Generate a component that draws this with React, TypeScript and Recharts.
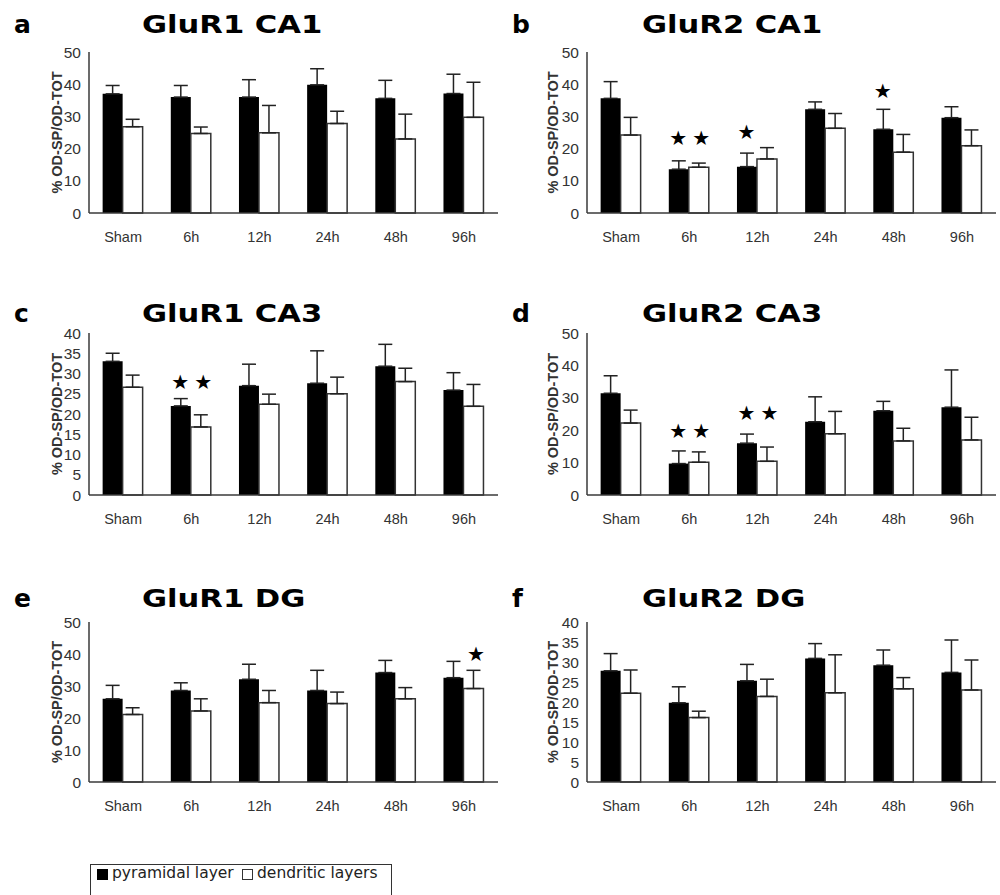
import React from 'react';
import { BarChart, Bar, XAxis, YAxis, ErrorBar, ReferenceDot } from 'recharts';

// ---------- data ----------
const categories = ['Sham', '6h', '12h', '24h', '48h', '96h'];

const ticks50 = [0, 10, 20, 30, 40, 50];
const ticks40 = [0, 5, 10, 15, 20, 25, 30, 35, 40];

// a: GluR1 CA1
const glur1Ca1Pyr = [37, 36, 36, 39.8, 35.6, 37.1];
const glur1Ca1PyrErr = [2.6, 3.6, 5.4, 5, 5.6, 6];
const glur1Ca1Den = [26.8, 24.7, 24.9, 27.8, 23, 29.7];
const glur1Ca1DenErr = [2.3, 2, 8.5, 3.8, 7.7, 10.9];
const glur1Ca1Stars: { cat: string; bar: string; y: number }[] = [];

// b: GluR2 CA1
const glur2Ca1Pyr = [35.6, 13.6, 14.4, 32.2, 26, 29.6];
const glur2Ca1PyrErr = [5.2, 2.6, 4.2, 2.3, 6.2, 3.4];
const glur2Ca1Den = [24.2, 14.2, 16.8, 26.3, 18.9, 20.9];
const glur2Ca1DenErr = [5.5, 1.3, 3.5, 4.6, 5.5, 4.9];
const glur2Ca1Stars = [
  { cat: '6h', bar: 'pyr', y: 23.4 },
  { cat: '6h', bar: 'den', y: 23.4 },
  { cat: '12h', bar: 'pyr', y: 25.3 },
  { cat: '48h', bar: 'pyr', y: 37.8 },
];

// c: GluR1 CA3
const glur1Ca3Pyr = [33, 22, 27, 27.6, 31.8, 25.9];
const glur1Ca3PyrErr = [2, 1.8, 5.3, 8, 5.4, 4.3];
const glur1Ca3Den = [26.6, 16.8, 22.4, 25, 28, 21.9];
const glur1Ca3DenErr = [3, 3, 2.5, 4.1, 3.3, 5.4];
const glur1Ca3Stars = [
  { cat: '6h', bar: 'pyr', y: 28 },
  { cat: '6h', bar: 'den', y: 28 },
];

// d: GluR2 CA3
const glur2Ca3Pyr = [31.4, 9.7, 16, 22.6, 26, 27.1];
const glur2Ca3PyrErr = [5.4, 3.9, 2.8, 7.7, 2.9, 11.5];
const glur2Ca3Den = [22.2, 10.1, 10.4, 18.9, 16.7, 17];
const glur2Ca3DenErr = [4, 3.2, 4.4, 6.9, 3.9, 7];
const glur2Ca3Stars = [
  { cat: '6h', bar: 'pyr', y: 19.6 },
  { cat: '6h', bar: 'den', y: 19.6 },
  { cat: '12h', bar: 'pyr', y: 25.3 },
  { cat: '12h', bar: 'den', y: 25.3 },
];

// e: GluR1 DG
const glur1DgPyr = [26, 28.6, 32.1, 28.6, 34.2, 32.6];
const glur1DgPyrErr = [4.2, 2.4, 4.7, 6.3, 3.8, 5.1];
const glur1DgDen = [21.1, 22.2, 24.8, 24.5, 26, 29.2];
const glur1DgDenErr = [2.1, 3.8, 3.8, 3.6, 3.5, 5.7];
const glur1DgStars = [{ cat: '96h', bar: 'den', y: 40.1 }];

// f: GluR2 DG
const glur2DgPyr = [27.8, 19.8, 25.3, 30.9, 29.2, 27.4];
const glur2DgPyrErr = [4.3, 4, 4.1, 3.7, 3.8, 8.1];
const glur2DgDen = [22.2, 16.1, 21.4, 22.3, 23.3, 23];
const glur2DgDenErr = [5.8, 1.6, 4.3, 9.5, 2.8, 7.5];
const glur2DgStars: { cat: string; bar: string; y: number }[] = [];

const panelLetters = ['a', 'b', 'c', 'd', 'e', 'f'];
const panelTitles = ['GluR1 CA1', 'GluR2 CA1', 'GluR1 CA3', 'GluR2 CA3', 'GluR1 DG', 'GluR2 DG'];
const seriesNames = ['pyramidal layer', 'dendritic layers'];
const yAxisTitle = '% OD-SP/OD-TOT';

const panelData = [
  { pyr: glur1Ca1Pyr, pyrErr: glur1Ca1PyrErr, den: glur1Ca1Den, denErr: glur1Ca1DenErr, stars: glur1Ca1Stars, ticks: ticks50 },
  { pyr: glur2Ca1Pyr, pyrErr: glur2Ca1PyrErr, den: glur2Ca1Den, denErr: glur2Ca1DenErr, stars: glur2Ca1Stars, ticks: ticks50 },
  { pyr: glur1Ca3Pyr, pyrErr: glur1Ca3PyrErr, den: glur1Ca3Den, denErr: glur1Ca3DenErr, stars: glur1Ca3Stars, ticks: ticks40 },
  { pyr: glur2Ca3Pyr, pyrErr: glur2Ca3PyrErr, den: glur2Ca3Den, denErr: glur2Ca3DenErr, stars: glur2Ca3Stars, ticks: ticks50 },
  { pyr: glur1DgPyr, pyrErr: glur1DgPyrErr, den: glur1DgDen, denErr: glur1DgDenErr, stars: glur1DgStars, ticks: ticks50 },
  { pyr: glur2DgPyr, pyrErr: glur2DgPyrErr, den: glur2DgDen, denErr: glur2DgDenErr, stars: glur2DgStars, ticks: ticks40 },
];

// ---------- layout ----------
const rowPlots = [
  { top: 52, bottom: 213, titleBase: 33 },
  { top: 333, bottom: 495, titleBase: 322 },
  { top: 622, bottom: 782, titleBase: 607 },
];
const colLayout = [
  { left: 0, axisW: 89, marginRight: 2, labelX: 57, letterX: 14, titleX: 142 },
  { left: 500, axisW: 87, marginRight: 4, labelX: 53, letterX: 512, titleX: 642 },
];
const MARGIN_TOP = 10;
const XAXIS_H = 40;
const FRAME = '#3a3a3a';
const TEXT = '#333';
const SANS = '"Liberation Sans", Arial, sans-serif';
const HEAVY = '"DejaVu Sans", sans-serif';

const Panel = ({ idx }: { idx: number }) => {
  const p = panelData[idx];
  const row = rowPlots[Math.floor(idx / 2)];
  const col = colLayout[idx % 2];
  const yMax = p.ticks[p.ticks.length - 1];
  const data = categories.map((cat, i) => ({
    cat,
    pyr: p.pyr[i],
    pyrErr: [0, p.pyrErr[i]],
    den: p.den[i],
    denErr: [0, p.denErr[i]],
  }));
  const plotH = row.bottom - row.top;
  const height = MARGIN_TOP + plotH + XAXIS_H;

  const renderYLabel = (props: any) => {
    const vb = props.viewBox || {};
    const cx = (vb.x || 0) + col.labelX;
    const cy = (vb.y || 0) + (vb.height || 0) / 2;
    return (
      <text
        transform={`translate(${cx},${cy}) rotate(-90)`}
        textAnchor="middle"
        dominantBaseline="central"
        fontFamily={SANS}
        fontWeight="bold"
        fontSize={14.5}
        fill={TEXT}
      >
        {yAxisTitle}
      </text>
    );
  };

  return (
    <div style={{ position: 'absolute', left: col.left, top: row.top - MARGIN_TOP }}>
      <BarChart
        width={500}
        height={height}
        data={data}
        margin={{ top: MARGIN_TOP, right: col.marginRight, left: 0, bottom: 0 }}
        barCategoryGap="20%"
        barGap={0}
      >
        <XAxis
          dataKey="cat"
          axisLine={{ stroke: FRAME, strokeWidth: 1.5 }}
          tickLine={false}
          tickSize={6}
          tickMargin={13}
          height={XAXIS_H}
          interval={0}
          tick={{ fill: TEXT, fontSize: 14.5, fontFamily: SANS }}
        />
        <XAxis
          xAxisId="top"
          dataKey="cat"
          orientation="top"
          height={0}
          tick={false}
          tickLine={false}
          axisLine={{ stroke: FRAME, strokeWidth: 1.5 }}
        />
        <YAxis
          domain={[0, yMax]}
          ticks={p.ticks}
          interval={0}
          width={col.axisW}
          axisLine={{ stroke: FRAME, strokeWidth: 1.5 }}
          tickLine={false}
          tickSize={4}
          tickMargin={4}
          tick={{ fill: TEXT, fontSize: 15.5, fontFamily: SANS }}
          label={renderYLabel}
        />
        <YAxis
          yAxisId="r"
          orientation="right"
          domain={[0, yMax]}
          width={0}
          tick={false}
          tickLine={false}
          axisLine={{ stroke: FRAME, strokeWidth: 1.5 }}
        />
        <Bar dataKey="pyr" name={seriesNames[0]} fill="#000" isAnimationActive={false}>
          <ErrorBar dataKey="pyrErr" width={7} stroke="#222" strokeWidth={1.5} direction="y" />
        </Bar>
        <Bar dataKey="den" name={seriesNames[1]} fill="#fff" stroke="#333" strokeWidth={1.5} isAnimationActive={false}>
          <ErrorBar dataKey="denErr" width={7} stroke="#222" strokeWidth={1.5} direction="y" />
        </Bar>
        {p.stars.map((s, k) => (
          <ReferenceDot
            key={k}
            x={s.cat}
            y={s.y}
            r={0}
            ifOverflow="visible"
            shape={(sp: any) => (
              <text
                x={sp.cx + (s.bar === 'pyr' ? -11 : 12)}
                y={sp.cy}
                textAnchor="middle"
                dominantBaseline="central"
                fontFamily={HEAVY}
                fontSize={20}
                fill="#000"
              >
                ★
              </text>
            )}
          />
        ))}
      </BarChart>
    </div>
  );
};

export default function App() {
  return (
    <div
      style={{
        position: 'absolute',
        left: 0,
        top: 0,
        width: 1000,
        height: 895,
        background: '#fff',
        overflow: 'hidden',
      }}
    >
      <svg width={1000} height={895} style={{ position: 'absolute', left: 0, top: 0 }}>
        {panelTitles.map((t, i) => {
          const row = rowPlots[Math.floor(i / 2)];
          const col = colLayout[i % 2];
          return (
            <g key={i}>
              <text x={col.letterX} y={row.titleBase} fontFamily={HEAVY} fontWeight="bold" fontSize={25} fill="#000">
                {panelLetters[i]}
              </text>
              <text
                transform={`translate(${col.titleX},${row.titleBase}) scale(1.2,1)`}
                fontFamily={HEAVY}
                fontWeight="bold"
                fontSize={25.5}
                fill="#000"
              >
                {t}
              </text>
            </g>
          );
        })}
      </svg>
      {panelData.map((_, i) => (
        <Panel key={i} idx={i} />
      ))}
      <div
        style={{
          position: 'absolute',
          left: 90,
          top: 864,
          width: 302,
          height: 40,
          border: '1.5px solid #333',
          boxSizing: 'border-box',
          fontFamily: HEAVY,
          fontSize: 15.5,
          color: '#222',
        }}
      >
        <div style={{ position: 'absolute', left: 6, top: 4, width: 11, height: 11, background: '#000' }} />
        <div style={{ position: 'absolute', left: 21, top: 0, lineHeight: '17px', whiteSpace: 'nowrap' }}>{seriesNames[0]}</div>
        <div
          style={{
            position: 'absolute',
            left: 151,
            top: 4,
            width: 11,
            height: 11,
            background: '#fff',
            border: '1.5px solid #333',
            boxSizing: 'border-box',
          }}
        />
        <div style={{ position: 'absolute', left: 166, top: 0, lineHeight: '17px', whiteSpace: 'nowrap' }}>{seriesNames[1]}</div>
      </div>
    </div>
  );
}
